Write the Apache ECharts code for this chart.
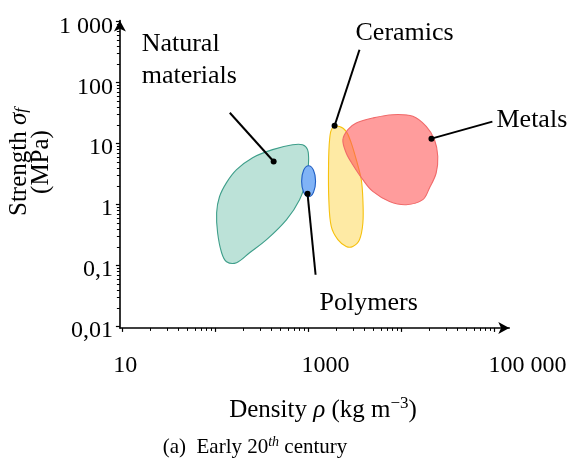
<!DOCTYPE html>
<html><head><meta charset="utf-8">
<script src="https://cdn.jsdelivr.net/npm/echarts@6/dist/echarts.min.js"></script>
<style>html,body{margin:0;padding:0;background:#fff}#c{width:575px;height:464px}</style>
</head><body><div id="c"></div>
<script>
// ---- axes ----
const xMin = 9.33, xMax = 144500;
const yMin = 0.00955, yMax = 1047;
const xTickValues = [10, 100, 1000, 10000, 100000];
const xLabelValues = [10, 1000, 100000];
const xLabelTexts = ['10', '1000', '100 000'];
const yTickValues = [0.01, 0.1, 1, 10, 100, 1000];
const yLabelTexts = ['0,01', '0,1', '1', '10', '100', '1 000'];
const minorMultipliers = [2, 3, 4, 5, 6, 7, 8, 9];

// ---- material regions (density, strength) ----
const naturalX = [861, 975, 1000, 950, 800, 580, 353, 232, 168, 131, 116, 105, 102.5, 110, 131, 168, 250, 410, 673];
const naturalY = [9.6, 8.0, 5.1, 2.57, 1.21, 0.57, 0.267, 0.163, 0.112, 0.116, 0.163, 0.347, 0.74, 1.35, 2.3, 3.75, 5.9, 8.0, 9.6];
const polymersX = [1000, 1130, 1189, 1130, 1000, 885, 842, 885];
const polymersY = [4.35, 3.67, 2.43, 1.6, 1.35, 1.6, 2.43, 3.67];
const ceramicsX = [2153, 2541, 2875, 3260, 3690, 3840, 3840, 3530, 2990, 2541, 2066, 1754, 1652, 1640, 1683, 1800];
const ceramicsY = [19.2, 15.9, 10.3, 5.47, 2.57, 1.21, 0.50, 0.267, 0.207, 0.207, 0.267, 0.44, 1.21, 4.25, 11.6, 18.1];
const metalsX = [2339, 2650, 3260, 4910, 8050, 13240, 18450, 22650, 24550, 23600, 20000, 16950, 11250, 7430, 4910, 3840, 2990, 2541];
const metalsY = [11.6, 17.0, 21.8, 26.4, 29.9, 28.1, 19.2, 11.6, 6.2, 3.31, 1.88, 1.21, 1.0, 1.13, 1.65, 2.57, 4.53, 7.05];

// ---- leader lines: [start, dot] ----
const naturalLeader = [[142, 32.2], [421, 5.1]];
const ceramicsLeader = [[3530, 347], [1905, 19.7]];
const metalsLeader = [[95000, 23], [21000, 12.1]];
const polymersLeader = [[1190, 0.071], [975, 1.51]];

// ---- annotation labels (left-middle anchor) ----
const labelTexts = ['Natural\nmaterials', 'Ceramics', 'Metals', 'Polymers'];
const labelX = [16.0, 3200, 105200, 1312];
const labelY = [230, 661, 24.7, 0.0247];

const FONT = "'Liberation Serif', 'DejaVu Serif', serif";

function minorValues(lo, hi) {
  const out = [];
  for (let p = lo; p < hi; p++) minorMultipliers.forEach(m => out.push(m * Math.pow(10, p)));
  return out;
}

function blob(name, xs, ys, fill, stroke, z) {
  return {
    type: 'custom', name, z, silent: true, clip: false,
    data: xs.map((x, i) => [x, ys[i]]),
    renderItem(params, api) {
      if (params.dataIndex !== 0) return null;
      const pts = xs.map((x, i) => api.coord([x, ys[i]]));
      return { type: 'polygon', shape: { points: pts, smooth: 0.35 },
        style: { fill, stroke, lineWidth: 1.1 } };
    }
  };
}

function leader(data) {
  return {
    type: 'line', z: 10, silent: true, animation: false,
    lineStyle: { color: '#000', width: 2 },
    data: [{ value: data[0], symbol: 'none' },
           { value: data[1], symbol: 'circle', symbolSize: 6, itemStyle: { color: '#000' } }]
  };
}

const xRich = { a: { fontSize: 24, fontFamily: FONT, color: '#000', padding: [0, 0, 0, 5] },
                b: { fontSize: 24, fontFamily: FONT, color: '#000', padding: [0, 0, 0, 34] },
                c: { fontSize: 24, fontFamily: FONT, color: '#000', padding: [0, 0, 0, 66] } };
const yRich = { a: { fontSize: 24, fontFamily: FONT, color: '#000', padding: [9, 0, 0, 0] } };

const baseX = { type: 'log', logBase: 10, min: xMin, max: xMax, splitLine: { show: false }, position: 'bottom' };
const baseY = { type: 'log', logBase: 10, min: yMin, max: yMax, splitLine: { show: false }, position: 'left' };

const option = {
  animation: false,
  grid: { left: 119.9, right: 65.7, top: 20.5, bottom: 136.1, containLabel: false },
  xAxis: [
    Object.assign({}, baseX, {
      axisLine: { show: true, lineStyle: { color: '#000', width: 1.6 }, symbol: ['none', 'arrow'], symbolSize: [9, 11] },
      axisTick: { show: true, customValues: xTickValues, length: 4, lineStyle: { color: '#000', width: 1.2 } },
      axisLabel: {
        show: true, customValues: xLabelValues, margin: 26, rich: xRich,
        formatter: v => {
          const i = xLabelValues.findIndex(t => Math.abs(Math.log10(t) - Math.log10(v)) < 1e-6);
          if (i < 0) return '';
          return '{' + ['a', 'b', 'c'][i] + '|' + xLabelTexts[i] + '}';
        }
      }
    }),
    Object.assign({}, baseX, {
      axisLine: { show: false },
      axisTick: { show: true, customValues: minorValues(1, 5), length: 3, lineStyle: { color: '#000', width: 1 } },
      axisLabel: { show: false }
    })
  ],
  yAxis: [
    Object.assign({}, baseY, {
      axisLine: { show: true, lineStyle: { color: '#000', width: 1.6 }, symbol: ['none', 'arrow'], symbolSize: [9, 11] },
      axisTick: { show: true, customValues: yTickValues, length: 4, lineStyle: { color: '#000', width: 1.2 } },
      axisLabel: {
        show: true, customValues: yTickValues, margin: 7, rich: yRich,
        formatter: v => {
          const i = yTickValues.findIndex(t => Math.abs(Math.log10(t) - Math.log10(v)) < 1e-6);
          return i < 0 ? '' : '{a|' + yLabelTexts[i] + '}';
        }
      }
    }),
    Object.assign({}, baseY, {
      axisLine: { show: false },
      axisTick: { show: true, customValues: minorValues(-2, 3), length: 3, lineStyle: { color: '#000', width: 1 } },
      axisLabel: { show: false }
    })
  ],
  series: [
    blob('Natural materials', naturalX, naturalY, '#bce2d8', '#3e9e8a', 2),
    blob('Polymers', polymersX, polymersY, '#80b3f6', '#1f5ec4', 3),
    blob('Ceramics', ceramicsX, ceramicsY, '#feeaa4', '#f6c10e', 4),
    blob('Metals', metalsX, metalsY, 'rgba(255,85,85,0.58)', '#f06a6a', 5),
    leader(naturalLeader), leader(ceramicsLeader), leader(metalsLeader), leader(polymersLeader),
    {
      type: 'custom', z: 20, silent: true, clip: false,
      data: labelX.map((x, i) => [x, labelY[i]]),
      renderItem(params, api) {
        const i = params.dataIndex;
        const p = api.coord([labelX[i], labelY[i]]);
        return { type: 'text', x: p[0], y: p[1],
          style: { text: labelTexts[i], fontSize: 26, fontFamily: FONT, fill: '#000',
                   align: 'left', verticalAlign: 'middle', lineHeight: 32 } };
      }
    }
  ],
  graphic: [
    { type: 'text', x: 323, y: 410, silent: true,
      style: { text: 'Density {i|ρ} (kg m{s|−3})', align: 'center', verticalAlign: 'middle',
        fontSize: 25, fontFamily: FONT, fill: '#000', lineHeight: 30,
        rich: { i: { fontSize: 25, fontFamily: FONT, fontStyle: 'italic', lineHeight: 30 },
                s: { fontSize: 17, fontFamily: FONT, verticalAlign: 'top', lineHeight: 17 } } } },
    { type: 'text', x: 255, y: 447, silent: true,
      style: { text: '(a)  Early 20{s|th} century', align: 'center', verticalAlign: 'middle',
        fontSize: 21, fontFamily: FONT, fill: '#000', lineHeight: 24,
        rich: { s: { fontSize: 14, fontFamily: FONT, fontStyle: 'italic', verticalAlign: 'top', lineHeight: 14 } } } },
    { type: 'text', x: 30, y: 162, rotation: Math.PI / 2, silent: true,
      style: { text: 'Strength {i|σ}{f|f}\n(MPa)', align: 'center', verticalAlign: 'middle',
        fontSize: 25, fontFamily: FONT, fill: '#000', lineHeight: 22,
        rich: { i: { fontSize: 25, fontFamily: FONT, fontStyle: 'italic', lineHeight: 22 },
                f: { fontSize: 17, fontFamily: FONT, fontStyle: 'italic', verticalAlign: 'bottom', lineHeight: 17 } } } }
  ]
};

const chart = echarts.init(document.getElementById('c'), null, { renderer: 'canvas' });
chart.setOption(option);
</script>
</body></html>
